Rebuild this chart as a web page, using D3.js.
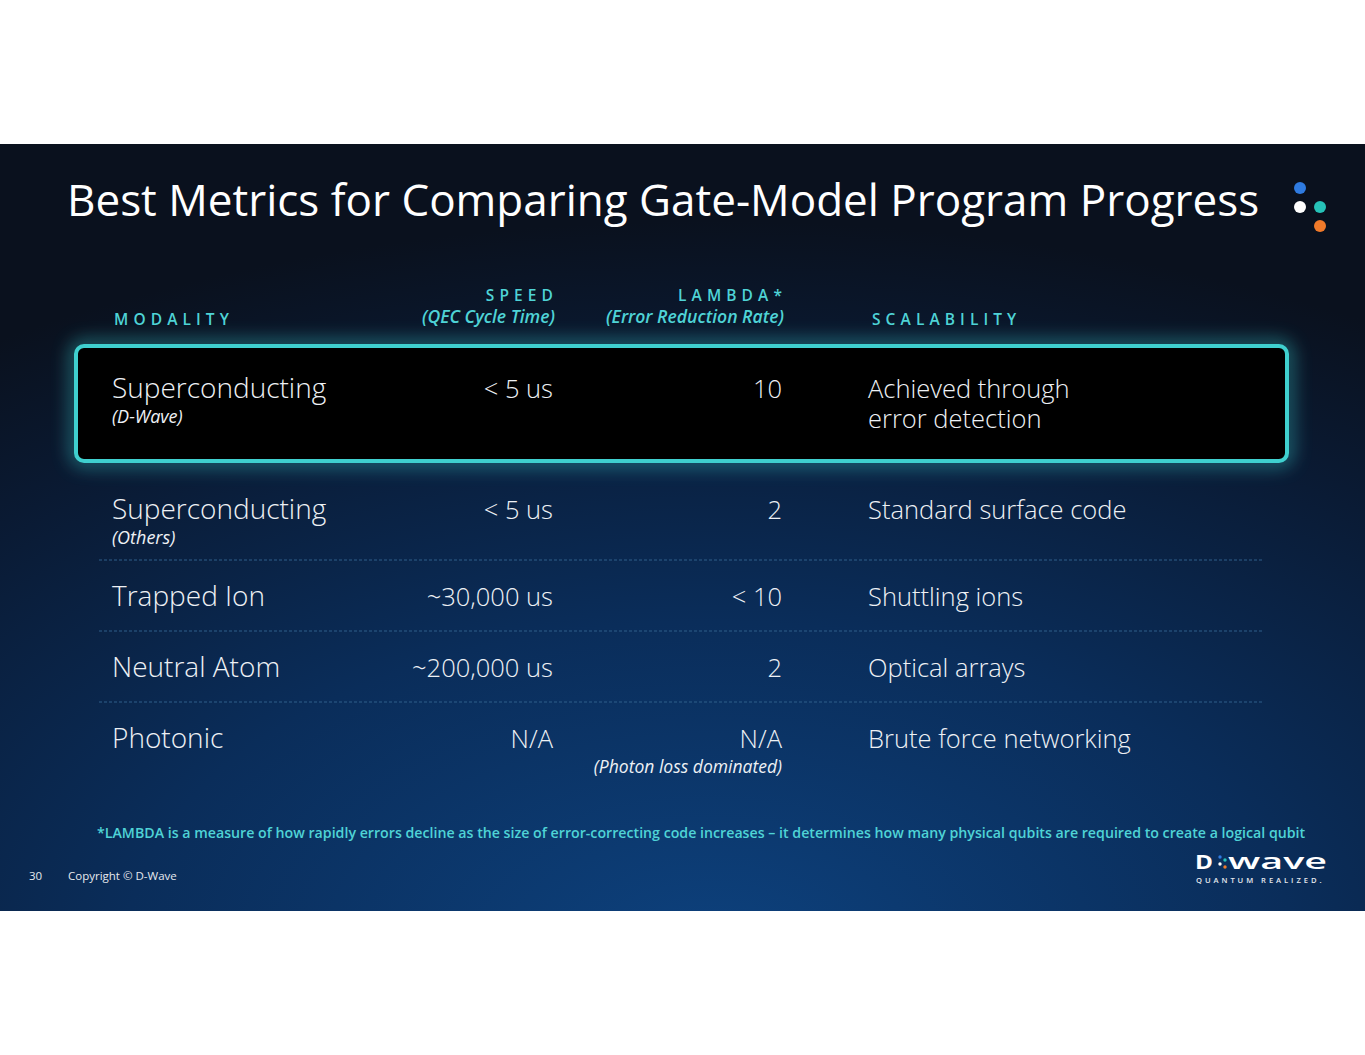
<!DOCTYPE html>
<html>
<head>
<meta charset="utf-8">
<script src="https://cdn.jsdelivr.net/npm/d3@7"></script>
<style>
  html, body { margin: 0; padding: 0; background: #fff; }
  svg { display: block; font-family: "Open Sans", sans-serif; }
</style>
</head>
<body>
<svg id="slide" width="1365" height="1055"></svg>
<script>
// table contents
var modality = ["Superconducting", "Superconducting", "Trapped Ion", "Neutral Atom", "Photonic"];
var modalityNote = ["(D-Wave)", "(Others)", "", "", ""];
var speed = ["< 5 us", "< 5 us", "~30,000 us", "~200,000 us", "N/A"];
var lambda = ["10", "2", "< 10", "2", "N/A"];
var lambdaNote = ["", "", "", "", "(Photon loss dominated)"];
var scalability = [["Achieved through", "error detection"], ["Standard surface code"], ["Shuttling ions"], ["Optical arrays"], ["Brute force networking"]];
var headers = [
    {title: "MODALITY", sub: ""},
    {title: "SPEED", sub: "(QEC Cycle Time)"},
    {title: "LAMBDA*", sub: "(Error Reduction Rate)"},
    {title: "SCALABILITY", sub: ""}
];
var dotColors = ["#2f7be0", "#ffffff", "#26c2b8", "#f07a2a"];

var teal = "#4fd3d6";
var svg = d3.select("#slide");
var top0 = 144, slideH = 767;

// background
var defs = svg.append("defs");
var bg = defs.append("radialGradient").attr("id", "bg")
    .attr("cx", "0.52").attr("cy", "1.05").attr("r", "0.95");
bg.append("stop").attr("offset", "0").attr("stop-color", "#0d417d");
bg.append("stop").attr("offset", "0.45").attr("stop-color", "#0a2d5a");
bg.append("stop").attr("offset", "0.8").attr("stop-color", "#0a1a33");
bg.append("stop").attr("offset", "1").attr("stop-color", "#0a111e");

var glow = defs.append("filter").attr("id", "glow")
    .attr("x", "-10%").attr("y", "-40%").attr("width", "120%").attr("height", "180%");
glow.append("feGaussianBlur").attr("stdDeviation", 9).attr("result", "b");

svg.append("rect").attr("x", 0).attr("y", top0).attr("width", 1365).attr("height", slideH)
    .attr("fill", "url(#bg)");

// title
svg.append("text").attr("x", 67).attr("y", 216)
    .attr("font-size", 44).attr("fill", "#fff")
    .text("Best Metrics for Comparing Gate-Model Program Progress");

// logo dots
var dotPos = [[1300, 188], [1300, 207], [1320, 207], [1320, 226]];
svg.selectAll("circle.dot").data(dotColors).join("circle")
    .attr("class", "dot")
    .attr("cx", function (d, i) { return dotPos[i][0]; })
    .attr("cy", function (d, i) { return dotPos[i][1]; })
    .attr("r", 6).attr("fill", function (d) { return d; });

// columns: anchor and x
var colX = [114, 553, 782, 872];
var colAnchor = ["start", "end", "end", "start"];

var hdr = svg.selectAll("g.hdr").data(headers).join("g").attr("class", "hdr");
hdr.append("text")
    .attr("x", function (d, i) { return colAnchor[i] === "end" ? colX[i] + 5 : colX[i]; })
    .attr("y", function (d) { return d.sub ? 301 : 325; })
    .attr("text-anchor", function (d, i) { return colAnchor[i]; })
    .attr("font-size", 15.5).attr("font-weight", 600)
    .attr("letter-spacing", 5.1).attr("fill", teal)
    .text(function (d) { return d.title; });
hdr.filter(function (d) { return d.sub; }).append("text")
    .attr("x", function (d, i) { return colX[i + 1] + 2; })
    .attr("y", 323)
    .attr("text-anchor", "end")
    .attr("font-size", 17.6).attr("font-weight", 600).attr("font-style", "italic")
    .attr("fill", teal)
    .text(function (d) { return d.sub; });

// highlight box
var box = {x: 76, y: 346, w: 1211, h: 115};
svg.append("rect").attr("x", box.x).attr("y", box.y).attr("width", box.w).attr("height", box.h)
    .attr("rx", 8).attr("fill", "none").attr("stroke", "#37c9c9").attr("stroke-width", 12)
    .attr("opacity", 0.5).attr("filter", "url(#glow)");
svg.append("rect").attr("x", box.x).attr("y", box.y).attr("width", box.w).attr("height", box.h)
    .attr("rx", 8).attr("fill", "#000").attr("stroke", "#3fd0cf").attr("stroke-width", 4);

// rows below the highlight: dividers every 71px
var y = d3.scaleLinear().domain([2, 4]).range([560, 702]);
function baseline(i) {
    if (i === 0) return 398;
    if (i === 1) return y(1) + 30;
    return y(i) + 46;
}

svg.selectAll("line.div").data([2, 3, 4]).join("line")
    .attr("class", "div")
    .attr("x1", 99).attr("x2", 1264)
    .attr("y1", function (d) { return y(d); }).attr("y2", function (d) { return y(d); })
    .attr("stroke", "#2f5f8a").attr("stroke-width", 1).attr("stroke-dasharray", "3,2");

var rows = svg.selectAll("g.row").data(modality).join("g").attr("class", "row");
var cell = {size: 28, valueSize: 25.5, weight: 300, fill: "#eef1f5"};

rows.append("text").attr("x", 112).attr("y", function (d, i) { return baseline(i); })
    .attr("font-size", cell.size).attr("font-weight", cell.weight).attr("fill", cell.fill)
    .text(function (d) { return d; });
rows.append("text").attr("x", 112).attr("y", function (d, i) { return baseline(i) + 25; })
    .attr("font-size", 18).attr("font-style", "italic").attr("fill", cell.fill)
    .text(function (d, i) { return modalityNote[i]; });
rows.append("text").attr("x", 553).attr("y", function (d, i) { return baseline(i); })
    .attr("text-anchor", "end")
    .attr("font-size", cell.valueSize).attr("font-weight", cell.weight).attr("fill", cell.fill)
    .text(function (d, i) { return speed[i]; });
rows.append("text").attr("x", 782).attr("y", function (d, i) { return baseline(i); })
    .attr("text-anchor", "end")
    .attr("font-size", cell.valueSize).attr("font-weight", cell.weight).attr("fill", cell.fill)
    .text(function (d, i) { return lambda[i]; });
rows.append("text").attr("x", 782).attr("y", function (d, i) { return baseline(i) + 25; })
    .attr("text-anchor", "end")
    .attr("font-size", 17.5).attr("font-style", "italic").attr("fill", cell.fill)
    .text(function (d, i) { return lambdaNote[i]; });
rows.append("text").attr("x", 868).attr("y", function (d, i) { return baseline(i); })
    .attr("font-size", cell.valueSize).attr("font-weight", cell.weight).attr("fill", cell.fill)
    .selectAll("tspan").data(function (d, i) { return scalability[i]; }).join("tspan")
    .attr("x", 868).attr("dy", function (d, j) { return j ? 30 : 0; })
    .text(function (d) { return d; });

// footnote
svg.append("text").attr("x", 97).attr("y", 838)
    .attr("font-size", 14.2).attr("font-weight", 600).attr("fill", teal)
    .text("*LAMBDA is a measure of how rapidly errors decline as the size of error-correcting code increases \u2013 it determines how many physical qubits are required to create a logical qubit");

// footer
svg.append("text").attr("x", 29).attr("y", 880).attr("font-size", 11.5).attr("fill", "#e6e9ee").text("30");
svg.append("text").attr("x", 68).attr("y", 880).attr("font-size", 11.5).attr("fill", "#e6e9ee").text("Copyright \u00a9 D-Wave");

// D-Wave wordmark
var logo = svg.append("g");
logo.append("text").attr("x", 1195).attr("y", 869)
    .attr("font-size", 19).attr("font-weight", 700).attr("fill", "#fff")
    .attr("textLength", 18).attr("lengthAdjust", "spacingAndGlyphs")
    .text("D");
logo.append("text").attr("x", 1228).attr("y", 869)
    .attr("font-size", 21).attr("font-weight", 600).attr("fill", "#fff")
    .attr("textLength", 99).attr("lengthAdjust", "spacingAndGlyphs")
    .text("wave");
var ldots = [[1220, 857, "#2f7be0"], [1220, 864, "#fff"], [1225, 860, "#26c2b8"], [1225, 867, "#f07a2a"]];
logo.selectAll("circle").data(ldots).join("circle")
    .attr("cx", function (d) { return d[0]; }).attr("cy", function (d) { return d[1]; })
    .attr("r", 1.7).attr("fill", function (d) { return d[2]; });
logo.append("text").attr("x", 1196).attr("y", 883)
    .attr("font-size", 7.6).attr("font-weight", 600).attr("fill", "#e6e9ee")
    .attr("letter-spacing", 2.95)
    .text("QUANTUM REALIZED.");
</script>
</body>
</html>
